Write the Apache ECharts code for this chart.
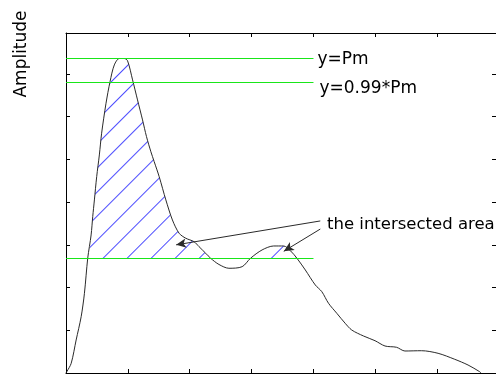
<!DOCTYPE html>
<html>
<head>
<meta charset="utf-8">
<script src="https://cdn.jsdelivr.net/npm/echarts@6/dist/echarts.min.js"></script>
<style>
  html, body { margin: 0; padding: 0; background: #fff; }
  #chart { width: 496px; height: 374px; }
</style>
</head>
<body>
<div id="chart"></div>
<script>
// Pulse samples: time (axis units) and amplitude
const timeX = [0, 0.013, 0.084, 0.164, 0.245, 0.298, 0.351, 0.406, 0.432, 0.459, 0.496, 0.539, 0.576, 0.647, 0.712, 0.781, 0.862, 0.942, 0.995, 1.076, 1.156, 1.237, 1.301, 1.372, 1.425, 1.506, 1.614, 1.72, 1.828, 1.936, 2.069, 2.15, 2.258, 2.338, 2.472, 2.633, 2.847, 2.982, 3.169, 3.357, 3.518, 3.626, 3.733, 3.868, 4.029, 4.135, 4.243, 4.377, 4.512, 4.618, 4.807, 4.995, 5.156, 5.343, 5.478, 5.746, 6.014, 6.283, 6.498, 6.686, 6.707];
const amplitude = [0, 0.03, 0.227, 0.773, 1.318, 1.866, 2.686, 3.232, 3.66, 4.052, 4.597, 5.105, 5.614, 6.316, 6.822, 7.213, 7.363, 7.363, 7.31, 6.862, 6.393, 5.925, 5.534, 5.18, 4.95, 4.597, 4.052, 3.583, 3.272, 3.155, 3.075, 2.958, 2.803, 2.686, 2.541, 2.452, 2.489, 2.686, 2.881, 2.974, 2.974, 2.864, 2.686, 2.412, 2.061, 1.904, 1.632, 1.398, 1.164, 1.007, 0.867, 0.756, 0.632, 0.602, 0.515, 0.522, 0.461, 0.321, 0.187, 0.03, 0];

// Reference levels
const levelNames = ['y=Pm', 'y=0.99*Pm', ''];
const levelValues = [7.363, 6.8, 2.68];
const levelSpan = [0, 4];
const labelShift = [[0, 1], [2, 6], [0, 0]];
const cutLevel = levelValues[2];

// Annotation arrows: [from, to] in data coordinates
const arrowFrom = [[4.11, 3.56], [4.11, 3.37]];
const arrowTo = [[1.78, 3.0], [3.52, 2.85]];
const annotationText = 'the intersected area';

const curveData = timeX.map((x, i) => [x, amplitude[i]]);
const hatchData = timeX.map((x, i) => [x, Math.max(amplitude[i], cutLevel)]);

const FONT = 'DejaVu Sans';
const chart = echarts.init(document.getElementById('chart'), null, { renderer: 'canvas' });

function boxAxis(pos, isX) {
  return {
    type: 'value',
    position: pos,
    min: 0,
    max: isX ? 6.95 : 7.96,
    interval: 1,
    axisLine: { show: true, onZero: false, lineStyle: { color: '#000', width: 1 } },
    axisTick: { show: true, inside: true, length: 4, lineStyle: { color: '#000', width: 1 } },
    axisLabel: { show: false },
    splitLine: { show: false }
  };
}

chart.setOption({
  animation: false,
  backgroundColor: '#fff',
  grid: { left: 66, top: 33, right: -2, bottom: 1 },
  xAxis: [boxAxis('bottom', true), boxAxis('top', true)],
  yAxis: [boxAxis('left', false), boxAxis('right', false)],
  series: [
    {
      type: 'line',
      data: hatchData,
      showSymbol: false,
      silent: true,
      smooth: 0.3,
      lineStyle: { width: 0, opacity: 0 },
      areaStyle: {
        origin: cutLevel,
        color: 'rgba(0,0,0,0)',
        opacity: 1
      },
      itemStyle: {
        color: 'rgba(0,0,0,0)',
        decal: {
          symbol: 'rect',
          symbolSize: 1,
          color: '#4b4bff',
          backgroundColor: 'rgba(0,0,0,0)',
          dashArrayX: [1, 0],
          dashArrayY: [1, 16],
          rotation: -Math.PI / 4
        }
      },
      z: 1
    },
    {
      type: 'line',
      data: curveData,
      showSymbol: false,
      silent: true,
      smooth: 0.3,
      lineStyle: { color: '#2a2a2a', width: 1 },
      z: 4,
      markLine: {
        silent: true,
        animation: false,
        symbolSize: [7, 10],
        lineStyle: { color: '#2a2a2a', width: 1, type: 'solid' },
        label: { show: false },
        data: arrowFrom.map((f, i) => [
          { coord: f, symbol: 'none' },
          { coord: arrowTo[i], symbol: 'arrow' }
        ])
      }
    },
    {
      // horizontal reference levels
      type: 'line',
      data: [],
      silent: true,
      z: 6,
      markLine: {
        silent: true,
        animation: false,
        symbol: 'none',
        lineStyle: { color: '#19e619', width: 1, type: 'solid' },
        data: levelValues.map((v, i) => [
          {
            coord: [levelSpan[0], v],
            label: {
              show: levelNames[i] !== '',
              position: 'end',
              formatter: levelNames[i],
              fontFamily: FONT,
              fontSize: 17,
              color: '#000',
              distance: 4,
              offset: labelShift[i]
            }
          },
          { coord: [levelSpan[1], v] }
        ])
      }
    }
  ],
  graphic: [
    {
      type: 'text',
      x: 22, y: 54,
      rotation: Math.PI / 2,
      style: { text: 'Amplitude', font: '17px "' + FONT + '"', fill: '#000', textAlign: 'center', textVerticalAlign: 'middle' }
    },
    {
      type: 'text',
      x: 327, y: 225,
      style: { text: annotationText, font: '16.5px "' + FONT + '"', fill: '#000', textAlign: 'left', textVerticalAlign: 'middle' }
    }
  ]
});
</script>
</body>
</html>
